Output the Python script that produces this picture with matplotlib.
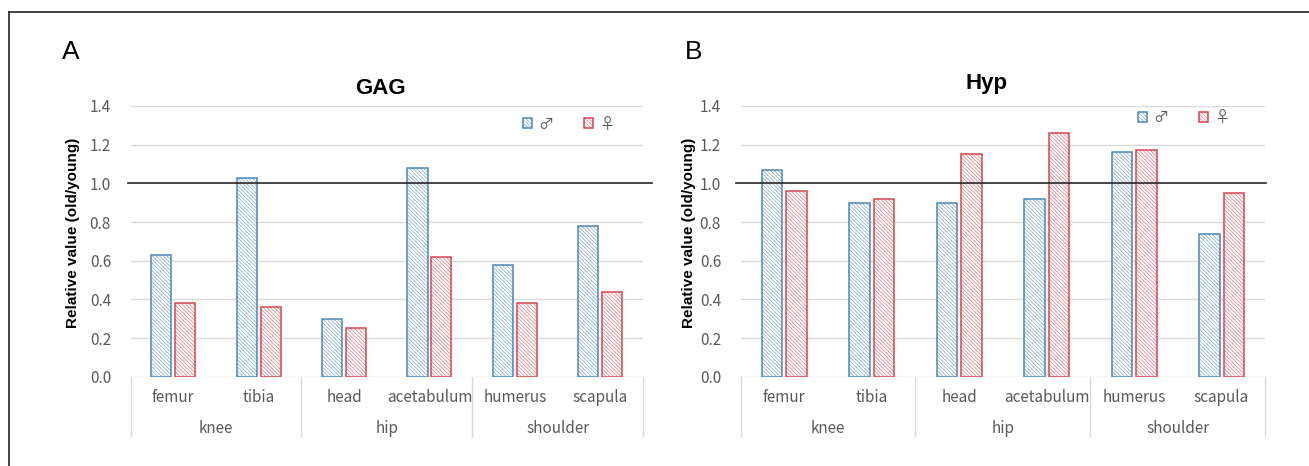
import matplotlib
matplotlib.use("Agg")
import matplotlib.pyplot as plt
from matplotlib.lines import Line2D
from matplotlib.transforms import blended_transform_factory

# data (old / young ratios)
sites = ['femur', 'tibia', 'head', 'acetabulum', 'humerus', 'scapula']
joints = ['knee', 'hip', 'shoulder']
gag_male = [0.63, 1.03, 0.30, 1.08, 0.58, 0.78]
gag_female = [0.38, 0.36, 0.25, 0.62, 0.38, 0.44]
hyp_male = [1.07, 0.90, 0.90, 0.92, 1.16, 0.74]
hyp_female = [0.96, 0.92, 1.15, 1.26, 1.17, 0.95]
y_ticks = [0.0, 0.2, 0.4, 0.6, 0.8, 1.0, 1.2, 1.4]
sex_labels = ['♂', '♀']

BLUE = '#4a86b8'
RED = '#d64550'
GRID = '#d9d9d9'
TXT = '#595959'
TICKFONT = ['Noto Sans CJK JP', 'DejaVu Sans']

plt.rcParams['hatch.linewidth'] = 0.35
HATCH = '\\' * 9


def draw_panel(ax, male, female, title, title_xy, line_span, legend_xy, ylab_x):
    x = list(range(len(sites)))
    w = 0.235
    off = 0.14
    ax.bar([i - off for i in x], male, width=w, color='white', edgecolor=BLUE,
           linewidth=1.1, hatch=HATCH, label=sex_labels[0], zorder=3)
    ax.bar([i + off for i in x], female, width=w, color='white', edgecolor=RED,
           linewidth=1.1, hatch=HATCH, label=sex_labels[1], zorder=3)

    ax.set_xlim(-0.5, len(sites) - 0.5)
    ax.set_ylim(0, 1.4)
    ax.set_yticks(y_ticks)
    ax.set_yticklabels([f'{v:.1f}' for v in y_ticks])
    for v in y_ticks:
        if v != 1.0:
            ax.axhline(v, color=GRID, lw=1.0, zorder=1)
    ax.axhline(1.0, xmin=line_span[0], xmax=line_span[1], color='#262626',
               lw=1.2, zorder=4, clip_on=False)

    for s in ax.spines.values():
        s.set_visible(False)
    ax.tick_params(length=0, labelsize=11, labelcolor=TXT)
    ax.tick_params(axis='y', pad=14)
    ax.tick_params(axis='x', pad=9)
    ax.set_xticks(x)
    ax.set_xticklabels(sites)
    for lab in ax.get_xticklabels() + ax.get_yticklabels():
        lab.set_family(TICKFONT)

    # joint groups under the site labels
    tr = blended_transform_factory(ax.transData, ax.transAxes)
    for k in range(len(joints) + 1):
        ax.add_line(Line2D([2 * k - 0.5, 2 * k - 0.5], [0, -0.222], transform=tr,
                           color=GRID, lw=1.0, clip_on=False))
    for k, j in enumerate(joints):
        ax.text(2 * k + 0.5, -0.19, j, transform=tr, ha='center', va='center',
                fontsize=11, color=TXT, family=TICKFONT)

    ax.set_ylabel('Relative value (old/young)', fontsize=11, fontweight='bold',
                  family='Liberation Sans')
    ax.yaxis.set_label_coords(ylab_x, 0.53)

    fig.text(title_xy[0], title_xy[1], title, ha='center', va='baseline',
             fontsize=16, fontweight='bold', family='Liberation Sans')

    leg = ax.legend(ncol=2, frameon=False, loc='center', bbox_to_anchor=legend_xy,
                    handlelength=0.6, handleheight=0.6, columnspacing=2.0,
                    handletextpad=0.4, labelcolor=TXT,
                    prop={'family': TICKFONT, 'size': 11})
    return leg


fig = plt.figure(figsize=(13.09, 4.66), dpi=100)
ax_a = fig.add_axes([0.0997, 0.1916, 0.3915, 0.581])
ax_b = fig.add_axes([0.5657, 0.1916, 0.4009, 0.581])

draw_panel(ax_a, gag_male, gag_female, 'GAG', (0.291, 0.798), (-0.004, 1.017),
           (0.855, 0.933), -0.098)
draw_panel(ax_b, hyp_male, hyp_female, 'Hyp', (0.7538, 0.808), (-0.009, 1.002),
           (0.845, 0.957), -0.085)

# panel letters
fig.text(0.0542, 0.888, 'A', fontsize=19, ha='center', va='center', family='Liberation Sans')
fig.text(0.530, 0.888, 'B', fontsize=19, ha='center', va='center', family='Liberation Sans')

# outer frame (top and left edges)
fig.add_artist(Line2D([0.0065, 1.0], [0.9753, 0.9753], transform=fig.transFigure,
                      color='#222222', lw=1.2))
fig.add_artist(Line2D([0.0065, 0.0065], [0.0, 0.9753], transform=fig.transFigure,
                      color='#222222', lw=1.2))

fig.savefig('out.png', dpi=100)
